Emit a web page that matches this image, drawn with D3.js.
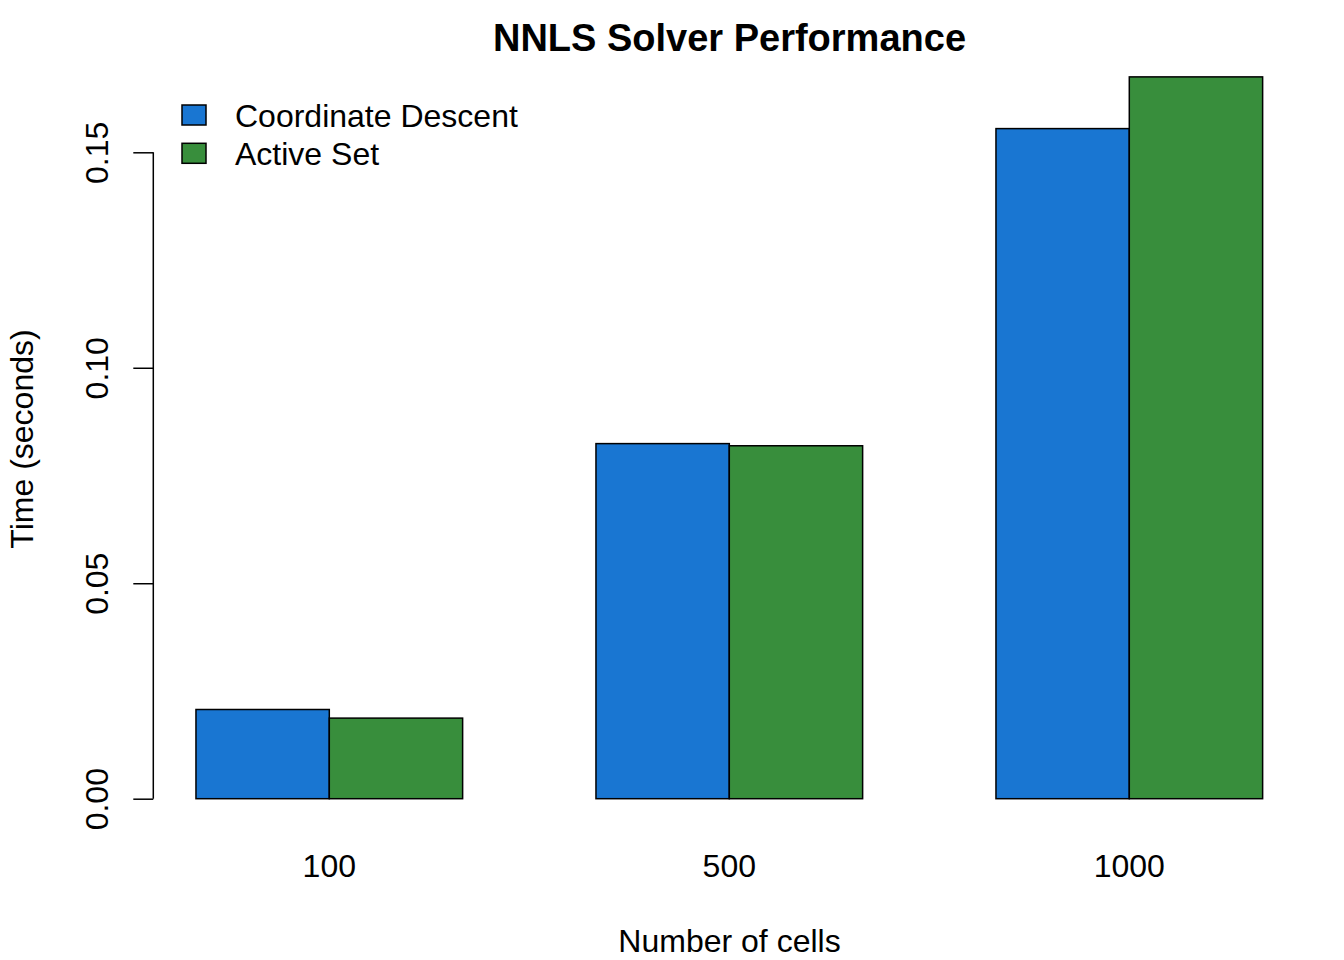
<!DOCTYPE html>
<html>
<head>
<meta charset="utf-8">
<script src="https://cdn.jsdelivr.net/npm/d3@7"></script>
<style>
  body { margin: 0; background: #fff; }
  svg { display: block; font-family: "Liberation Sans", Arial, Helvetica, sans-serif; }
</style>
</head>
<body>
<div id="chart"></div>
<script>
// data
var categories = ["100", "500", "1000"];
var seriesNames = ["Coordinate Descent", "Active Set"];
var coordDescent = [0.0207, 0.0824, 0.1555];
var activeSet = [0.0187, 0.0819, 0.1675];
var yTicks = [0, 0.05, 0.10, 0.15];
var colors = ["#1976D2", "#388E3C"];

var width = 1344, height = 960;

var svg = d3.select("#chart")
    .append("svg")
    .attr("width", width)
    .attr("height", height);

// groups: 1 unit gap + 2 bar units each, 133.3px per unit
var x0 = d3.scaleBand()
    .domain(categories)
    .range([129.3, 1329.3])
    .paddingInner(1 / 3)
    .paddingOuter(1 / 6);

var x1 = d3.scaleBand()
    .domain(seriesNames)
    .range([0, x0.bandwidth()]);

var y = d3.scaleLinear()
    .domain([0, 0.15])
    .range([798.7, 152.3]);

var rows = categories.map(function (c, i) {
    return { cat: c, values: [coordDescent[i], activeSet[i]] };
});

// bars
var groups = svg.selectAll("g.group")
    .data(rows)
    .enter()
    .append("g")
    .attr("class", "group")
    .attr("transform", function (d) { return "translate(" + x0(d.cat) + ",0)"; });

groups.selectAll("rect")
    .data(function (d) {
        return d.values.map(function (v, j) { return { name: seriesNames[j], value: v, idx: j }; });
    })
    .enter()
    .append("rect")
    .attr("x", function (d) { return x1(d.name); })
    .attr("y", function (d) { return y(d.value); })
    .attr("width", x1.bandwidth())
    .attr("height", function (d) { return y(0) - y(d.value); })
    .attr("fill", function (d) { return colors[d.idx]; })
    .attr("stroke", "#000")
    .attr("stroke-width", 1.5);

// y axis
var yAxis = d3.axisLeft(y)
    .tickValues(yTicks)
    .tickSize(20)
    .tickFormat(d3.format(".2f"));

var gy = svg.append("g")
    .attr("transform", "translate(153.3,0)")
    .call(yAxis);

gy.select(".domain")
    .attr("d", "M0," + y(0) + "V" + y(0.15))
    .attr("stroke", "#000")
    .attr("stroke-width", 1.5);
gy.selectAll(".tick line")
    .attr("stroke", "#000")
    .attr("stroke-width", 1.5);
gy.selectAll(".tick text")
    .attr("x", null)
    .attr("dy", null)
    .attr("fill", "#000")
    .attr("font-size", 32)
    .attr("text-anchor", "middle")
    .attr("transform", "translate(-45,0) rotate(-90)")
    .attr("y", 0);

// category labels
svg.selectAll("text.cat")
    .data(categories)
    .enter()
    .append("text")
    .attr("class", "cat")
    .attr("x", function (d) { return x0(d) + x0.bandwidth() / 2; })
    .attr("y", 877)
    .attr("text-anchor", "middle")
    .attr("font-size", 32)
    .text(function (d) { return d; });

// titles
svg.append("text")
    .attr("x", 729.5)
    .attr("y", 51)
    .attr("text-anchor", "middle")
    .attr("font-size", 38)
    .attr("font-weight", "bold")
    .text("NNLS Solver Performance");

svg.append("text")
    .attr("x", 729.5)
    .attr("y", 952)
    .attr("text-anchor", "middle")
    .attr("font-size", 32)
    .text("Number of cells");

svg.append("text")
    .attr("transform", "translate(32.5,439) rotate(-90)")
    .attr("text-anchor", "middle")
    .attr("font-size", 32)
    .text("Time (seconds)");

// legend
var legend = svg.selectAll("g.legend")
    .data(seriesNames)
    .enter()
    .append("g")
    .attr("class", "legend")
    .attr("transform", function (d, i) { return "translate(182," + (105 + i * 38.3) + ")"; });

legend.append("rect")
    .attr("width", 24)
    .attr("height", 20)
    .attr("fill", function (d, i) { return colors[i]; })
    .attr("stroke", "#000")
    .attr("stroke-width", 1.5);

legend.append("text")
    .attr("x", 53)
    .attr("y", 22)
    .attr("font-size", 32)
    .text(function (d) { return d; });
</script>
</body>
</html>
